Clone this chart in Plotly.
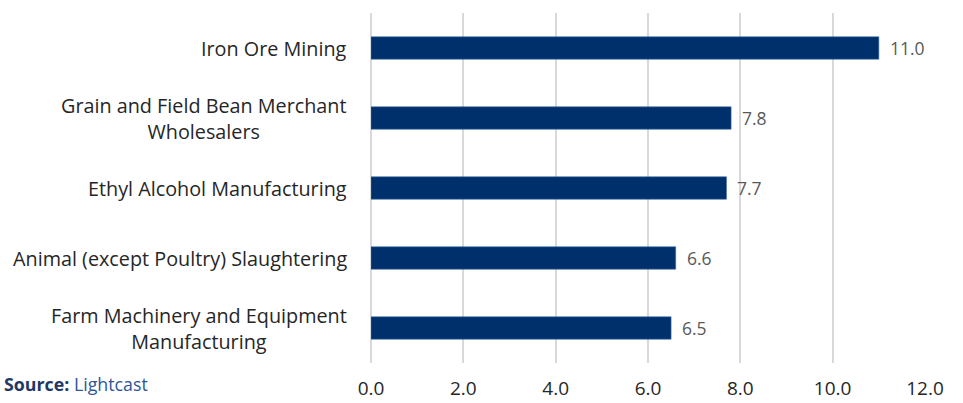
import plotly.graph_objects as go

categories = [
    "Iron Ore Mining",
    "Grain and Field Bean Merchant<br>Wholesalers",
    "Ethyl Alcohol Manufacturing",
    "Animal (except Poultry) Slaughtering",
    "Farm Machinery and Equipment<br>Manufacturing",
]
values = [11.0, 7.8, 7.7, 6.6, 6.5]
tick_vals = [0, 2, 4, 6, 8, 10, 12]
tick_text = ["0.0", "2.0", "4.0", "6.0", "8.0", "10.0", "12.0"]

FONT = "Open Sans"
W, H = 963, 403
ML, MR, MT, MB = 371, 38, 13, 40

fig = go.Figure()
fig.add_trace(go.Bar(
    x=values,
    y=categories,
    orientation="h",
    width=0.32,
    marker=dict(color="#00306b", line=dict(color="#3d6ea8", width=0.6)),
    hoverinfo="skip",
))

annotations = []
for c, v in zip(categories, values):
    annotations.append(dict(
        x=v, y=c, xref="x", yref="y", text=f"{v:.1f}", showarrow=False,
        xanchor="left", yanchor="middle", xshift=9,
        font=dict(family=FONT, size=17.5, color="#595959"),
    ))
    annotations.append(dict(
        x=-22 / (W - ML - MR), y=c, xref="paper", yref="y", text=c, showarrow=False,
        xanchor="right", yanchor="middle", align="center",
        font=dict(family=FONT, size=19.8, color="#262626"),
    ))

annotations.append(dict(
    x=-(ML - 2) / (W - ML - MR), y=-(384 - (H - MB)) / (H - MT - MB),
    xref="paper", yref="paper",
    text="<b>Source:</b> <span style='color:#2e5597'>Lightcast</span>",
    showarrow=False, xanchor="left", yanchor="middle",
    font=dict(family=FONT, size=17.8, color="#1f3864"),
))

fig.update_layout(
    width=W, height=H,
    margin=dict(l=ML, r=MR, t=MT, b=MB, autoexpand=False),
    paper_bgcolor="white", plot_bgcolor="white",
    showlegend=False,
    xaxis=dict(
        range=[0, 12], tickvals=tick_vals, ticktext=tick_text,
        showgrid=True, gridcolor="#d9d9d9", gridwidth=1.5,
        zeroline=True, zerolinecolor="#d9d9d9", zerolinewidth=1.5,
        showline=False, ticks="", ticklabelstandoff=12, automargin=False,
        tickfont=dict(family=FONT, size=19, color="#262626"),
        fixedrange=True,
    ),
    yaxis=dict(
        autorange="reversed", showticklabels=False, showgrid=False,
        zeroline=False, showline=False, ticks="", fixedrange=True,
        automargin=False,
    ),
    annotations=annotations,
)

fig.write_html("out.html")
